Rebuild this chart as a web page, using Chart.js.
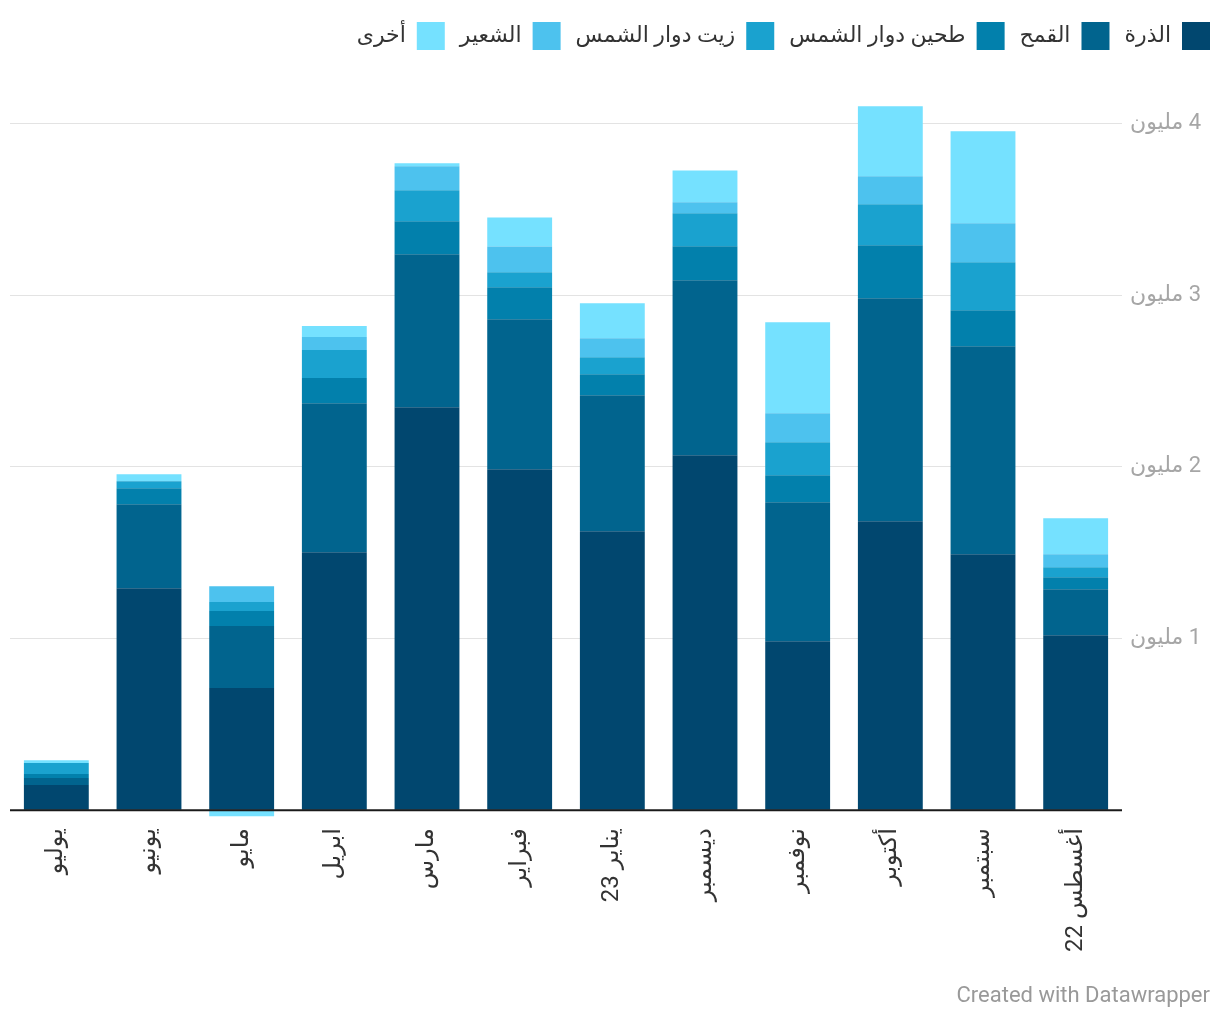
<!DOCTYPE html>
<html lang="ar">
<head>
<meta charset="utf-8">
<script src="https://cdn.jsdelivr.net/npm/chart.js@4.4.1/dist/chart.umd.min.js"></script>
<style>
  html, body { margin: 0; padding: 0; background: #fff; }
  #wrap { position: relative; width: 1220px; height: 1020px; }
  #c { position: absolute; left: 0; top: 0; direction: rtl; }
  #credit { position: absolute; right: 10px; top: 982px; font: 22px Roboto, "Noto Sans", sans-serif; color: #999; }
</style>
</head>
<body>
<div id="wrap">
  <canvas id="c" width="1220" height="1020"></canvas>
  <div id="credit">Created with Datawrapper</div>
</div>
<script>
// Categories (chronological; axis is reversed to read right-to-left)
const months = ["أغسطس 22", "سبتمبر", "أكتوبر", "نوفمبر", "ديسمبر", "يناير 23", "فبراير", "مارس", "ابريل", "مايو", "يونيو", "يوليو"];

// Values in millions
const corn      = [1.019, 1.491, 1.683, 0.984, 2.068, 1.625, 1.986, 2.347, 1.503, 0.711, 1.293, 0.146];
const wheat     = [0.268, 1.211, 1.299, 0.810, 1.019, 0.792, 0.874, 0.891, 0.868, 0.362, 0.489, 0.041];
const sunMeal   = [0.070, 0.210, 0.309, 0.157, 0.198, 0.122, 0.186, 0.192, 0.146, 0.087, 0.093, 0.023];
const sunOil    = [0.058, 0.280, 0.239, 0.192, 0.192, 0.099, 0.087, 0.181, 0.163, 0.052, 0.041, 0.064];
const barley    = [0.076, 0.227, 0.163, 0.169, 0.064, 0.111, 0.151, 0.140, 0.076, 0.093, 0.000, 0.000];
const other     = [0.210, 0.536, 0.408, 0.530, 0.186, 0.204, 0.169, 0.017, 0.064, -0.035, 0.041, 0.017];

const seriesNames = ["الذرة", "القمح", "طحين دوار الشمس", "زيت دوار الشمس", "الشعير", "أخرى"];
const seriesData = [corn, wheat, sunMeal, sunOil, barley, other];
const seriesColors = ["#01476f", "#01648e", "#0280ac", "#1aa2cf", "#4dc2ee", "#75e1ff"];

const yTicks = [0, 1, 2, 3, 4];
const unitLabel = "مليون";

const FONT = 'Roboto, "Noto Sans", "DejaVu Sans", sans-serif';

const baseline = {
  id: 'baseline',
  afterLayout(chart) {
    // nudge legend so it ends near the right edge like the original
    chart.legend.left += 5;
    chart.legend.right += 5;
  },
  afterDatasetsDraw(chart) {
    const {ctx, chartArea, scales} = chart;
    const y = scales.y.getPixelForValue(0);
    ctx.save();
    ctx.strokeStyle = '#1a1a1a';
    ctx.lineWidth = 2;
    ctx.beginPath();
    ctx.moveTo(chartArea.left, y);
    ctx.lineTo(chartArea.right, y);
    ctx.stroke();
    ctx.restore();
  }
};

new Chart(document.getElementById('c'), {
  type: 'bar',
  data: {
    labels: months,
    datasets: seriesNames.map((n, i) => ({
      label: n,
      data: seriesData[i],
      backgroundColor: seriesColors[i],
      borderWidth: 0,
      barPercentage: 0.70,
      categoryPercentage: 1.0,
      clip: false
    }))
  },
  options: {
    responsive: false,
    devicePixelRatio: 1,
    animation: false,
    layout: { padding: { top: 7, left: 10, right: 0, bottom: 50 } },
    plugins: {
      tooltip: { enabled: false },
      legend: {
        position: 'top',
        align: 'start',
        rtl: true,
        labels: {
          boxWidth: 28,
          boxHeight: 28,
          padding: 15,
          color: '#333',
          font: { family: FONT, size: 22 }
        }
      }
    },
    scales: {
      x: {
        stacked: true,
        reverse: true,
        grid: { display: false, drawTicks: false },
        border: { display: false },
        ticks: {
          color: '#333',
          font: { family: FONT, size: 24 },
          minRotation: 90,
          maxRotation: 90,
          padding: 18,
          autoSkip: false
        }
      },
      y: {
        stacked: true,
        position: 'right',
        min: 0,
        max: 4.37,
        afterBuildTicks(scale) { scale.ticks = yTicks.map(v => ({ value: v })); },
        afterFit(scale) { scale.width = 98; },
        grid: {
          color: ctx => (ctx.tick && ctx.tick.value === 0) ? 'rgba(0,0,0,0)' : '#e3e3e3',
          lineWidth: 1,
          drawTicks: false
        },
        border: { display: false },
        ticks: {
          color: '#a6a6a6',
          font: { family: FONT, size: 22 },
          padding: 8,
          callback: v => v === 0 ? '' : v + ' ' + unitLabel
        }
      }
    }
  },
  plugins: [baseline]
});
</script>
</body>
</html>
